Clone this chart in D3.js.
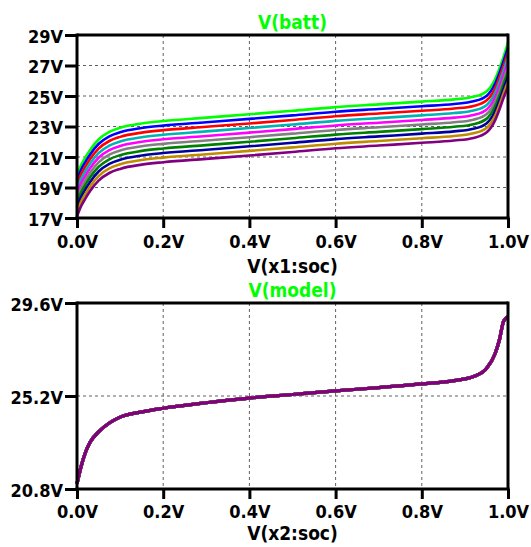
<!DOCTYPE html>
<html><head><meta charset="utf-8">
<script src="https://cdn.jsdelivr.net/npm/d3@7"></script>
<style>
html,body{margin:0;padding:0;background:#fff;}
text{font-family:"DejaVu Sans Condensed","DejaVu Sans",sans-serif;font-weight:bold;font-stretch:condensed;}
</style></head>
<body><svg id="c" width="531" height="547"></svg>
<script>
// State of charge sample points (x axis)
const soc = [0, 0.01, 0.02, 0.03, 0.05, 0.075, 0.1, 0.15, 0.2, 0.3, 0.4, 0.5, 0.6, 0.7, 0.8, 0.875, 0.92, 0.95, 0.97, 0.98, 0.99, 1.0];
// V(batt) stepped traces, top to bottom
const battGreen   = [19.8, 20.5, 21.0, 21.45, 22.15, 22.65, 22.92, 23.2, 23.36, 23.58, 23.8, 24.03, 24.27, 24.45, 24.63, 24.78, 24.95, 25.3, 26.1, 26.8, 27.6, 28.5];
const battBlue    = [19.5, 20.2, 20.7, 21.15, 21.85, 22.35, 22.62, 22.9, 23.06, 23.28, 23.5, 23.73, 23.97, 24.15, 24.33, 24.48, 24.65, 25.0, 25.8, 26.5, 27.3, 28.18];
const battRed     = [19.2, 19.9, 20.4, 20.85, 21.55, 22.05, 22.32, 22.6, 22.76, 22.98, 23.2, 23.43, 23.67, 23.85, 24.03, 24.18, 24.35, 24.7, 25.5, 26.2, 27.0, 27.86];
const battTeal    = [18.9, 19.6, 20.1, 20.55, 21.25, 21.75, 22.02, 22.3, 22.46, 22.68, 22.9, 23.13, 23.37, 23.55, 23.73, 23.88, 24.05, 24.4, 25.2, 25.9, 26.7, 27.54];
const battMagenta = [18.6, 19.3, 19.8, 20.25, 20.95, 21.45, 21.72, 22.0, 22.16, 22.38, 22.6, 22.83, 23.07, 23.25, 23.43, 23.58, 23.75, 24.1, 24.9, 25.6, 26.4, 27.22];
const battGray    = [18.3, 19.0, 19.5, 19.95, 20.65, 21.15, 21.42, 21.7, 21.86, 22.08, 22.3, 22.53, 22.77, 22.95, 23.13, 23.28, 23.45, 23.8, 24.6, 25.3, 26.1, 26.9];
const battDkGreen = [18.0, 18.7, 19.2, 19.65, 20.35, 20.85, 21.12, 21.4, 21.56, 21.78, 22.0, 22.23, 22.47, 22.65, 22.83, 22.98, 23.15, 23.5, 24.3, 25.0, 25.8, 26.58];
const battNavy    = [17.7, 18.4, 18.9, 19.35, 20.05, 20.55, 20.82, 21.1, 21.26, 21.48, 21.7, 21.93, 22.17, 22.35, 22.53, 22.68, 22.85, 23.2, 24.0, 24.7, 25.5, 26.26];
const battGold    = [17.4, 18.1, 18.6, 19.05, 19.75, 20.25, 20.52, 20.8, 20.96, 21.18, 21.4, 21.63, 21.87, 22.05, 22.23, 22.38, 22.55, 22.9, 23.7, 24.4, 25.2, 25.94];
const battPurple  = [17.1, 17.8, 18.3, 18.75, 19.45, 19.95, 20.22, 20.5, 20.66, 20.88, 21.1, 21.33, 21.57, 21.75, 21.93, 22.08, 22.25, 22.6, 23.4, 24.1, 24.9, 25.62];
// V(model) (all steps overlap)
const model = [21.05, 21.9, 22.55, 23.0, 23.5, 23.92, 24.2, 24.45, 24.62, 24.88, 25.1, 25.27, 25.44, 25.6, 25.77, 25.93, 26.12, 26.5, 27.2, 27.85, 28.75, 28.95];

const stepColors = ["#00ff00", "#0000ff", "#ff0000", "#00b4b4", "#ff00ff", "#808080", "#008000", "#0000a0", "#bf8c00", "#800080"];
const battSeries = [battGreen, battBlue, battRed, battTeal, battMagenta, battGray, battDkGreen, battNavy, battGold, battPurple];

const xTicks = [0, 0.2, 0.4, 0.6, 0.8, 1.0];
const topYTicks = [17, 19, 21, 23, 25, 27, 29];
const botYTicks = [20.8, 25.2, 29.6];

const svg = d3.select("#c");
const L = 77, R = 508;

function panel(cfg) {
  const x = d3.scaleLinear().domain([0, 1]).range([L, R]);
  const y = d3.scaleLinear().domain(cfg.yDomain).range([cfg.bottom, cfg.top]);
  const g = svg.append("g");
  // grid
  g.selectAll(".vg").data(xTicks.slice(1, -1)).join("line")
    .attr("x1", d => x(d)).attr("x2", d => x(d)).attr("y1", cfg.top).attr("y2", cfg.bottom)
    .attr("stroke", "#606060").attr("stroke-width", 1).attr("stroke-dasharray", "3,3");
  g.selectAll(".hg").data(cfg.yTicks.slice(1, -1)).join("line")
    .attr("x1", L).attr("x2", R).attr("y1", d => y(d)).attr("y2", d => y(d))
    .attr("stroke", "#606060").attr("stroke-width", 1).attr("stroke-dasharray", "3,3");
  // traces
  const line = d3.line().x((d, i) => x(soc[i])).y(d => y(d)).curve(d3.curveMonotoneX);
  cfg.series.forEach((s, i) => {
    g.append("path").attr("d", line(s)).attr("fill", "none")
      .attr("stroke", stepColors[i]).attr("stroke-width", cfg.lw).attr("stroke-linejoin", "round");
  });
  // frame
  g.append("line").attr("x1", L).attr("x2", R).attr("y1", cfg.top).attr("y2", cfg.top).attr("stroke", "#000").attr("stroke-width", 3);
  g.append("line").attr("x1", R).attr("x2", R).attr("y1", cfg.top - 1.5).attr("y2", cfg.bottom).attr("stroke", "#000").attr("stroke-width", 3);
  // axes
  const xa = g.append("g").attr("transform", `translate(0,${cfg.bottom})`)
    .call(d3.axisBottom(x).tickValues(xTicks).tickSize(10).tickPadding(4).tickFormat(d => d3.format(".1f")(d) + "V"));
  const ya = g.append("g").attr("transform", `translate(${L},0)`)
    .call(d3.axisLeft(y).tickValues(cfg.yTicks).tickSize(12).tickPadding(2).tickFormat(cfg.yFmt));
  [xa, ya].forEach(a => {
    a.select(".domain").attr("stroke", "#000").attr("stroke-width", 3);
    a.selectAll(".tick line").attr("stroke", "#000").attr("stroke-width", 3);
    a.selectAll("text").attr("fill", "#000").attr("font-size", 18)
      .style("font-family", '"DejaVu Sans Condensed","DejaVu Sans",sans-serif').style("font-weight", "bold");
  });
  xa.select(".domain").attr("d", `M${L - 1.5},0H${R + 1.5}`);
  ya.select(".domain").attr("d", `M0,${cfg.top - 1.5}V${cfg.bottom + 1.5}`);
  xa.selectAll(".tick text").attr("dy", null).attr("y", 0).attr("transform", `translate(0,${cfg.xLabelBase})`);
  ya.selectAll(".tick text").attr("dy", null).attr("y", 7);
  // titles
  svg.append("text").attr("x", (L + R) / 2).attr("y", cfg.titleY).attr("text-anchor", "middle")
    .attr("font-size", 19).attr("fill", "#00ff00").text(cfg.title);
  svg.append("text").attr("x", (L + R) / 2).attr("y", cfg.xTitleY).attr("text-anchor", "middle")
    .attr("font-size", 19).attr("fill", "#000").text(cfg.xTitle);
}

panel({ top: 35, bottom: 218, yDomain: [17, 29], yTicks: topYTicks, yFmt: d => d + "V",
  series: battSeries, lw: 2.6, title: "V(batt)", titleY: 29, xTitle: "V(x1:soc)", xTitleY: 273, xLabelBase: 30 });
panel({ top: 303, bottom: 489, yDomain: [20.8, 29.6], yTicks: botYTicks, yFmt: d => d.toFixed(1) + "V",
  series: stepColors.map(() => model), lw: 3.2, title: "V(model)", titleY: 297, xTitle: "V(x2:soc)", xTitleY: 540, xLabelBase: 29 });
</script></body></html>
